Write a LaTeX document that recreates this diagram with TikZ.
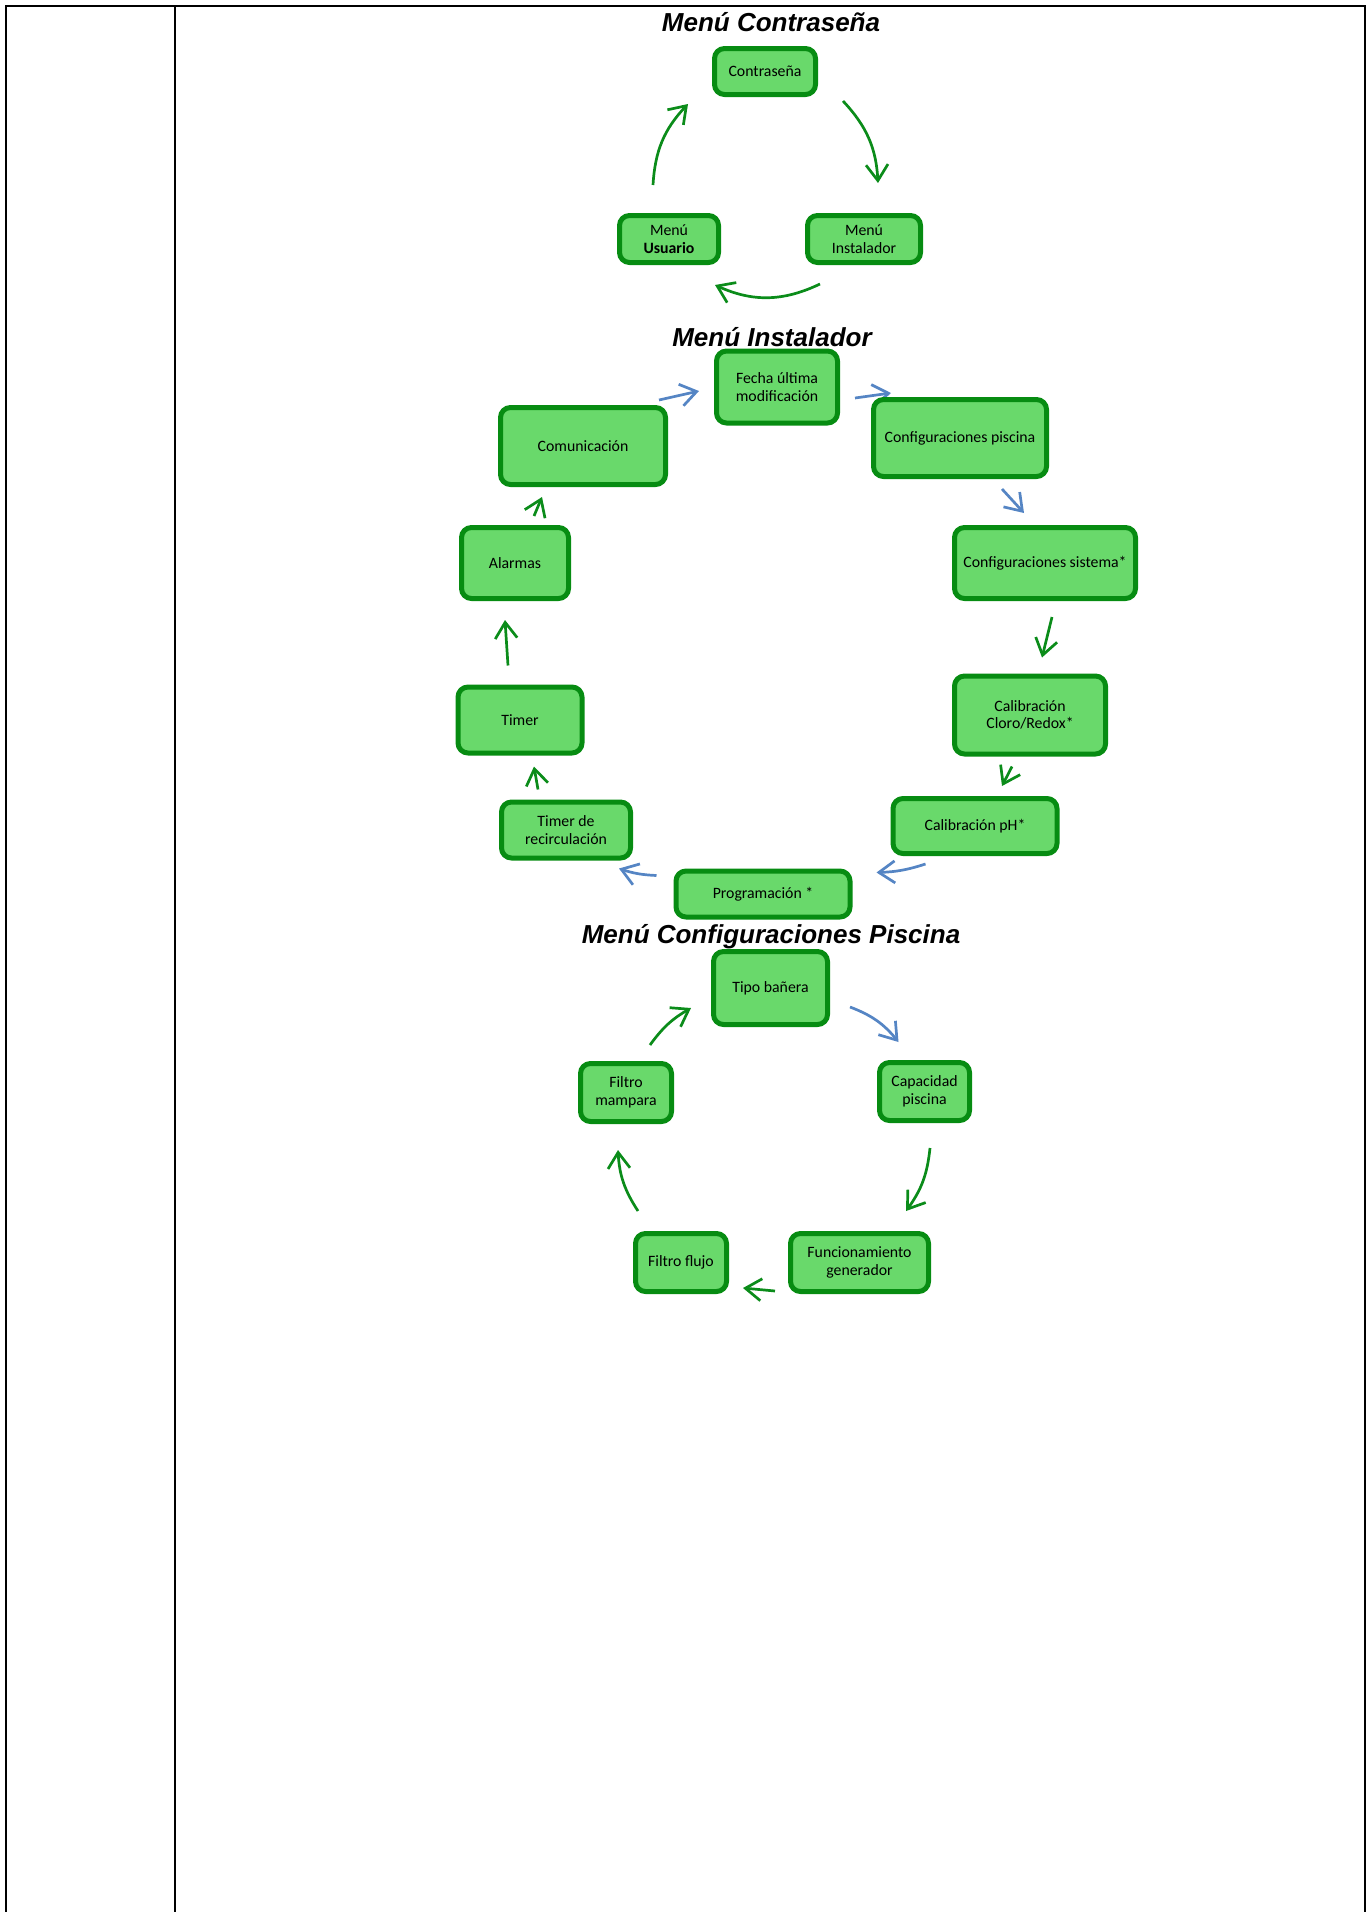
\documentclass[tikz,border=0pt]{standalone}
\usepackage{fontspec}
\setmainfont{Carlito}
\newfontfamily\titlefont{Liberation Sans}
\usetikzlibrary{arrows.meta,backgrounds}

\definecolor{boxfill}{HTML}{69D96B}
\definecolor{boxline}{HTML}{078C12}
\definecolor{arrgreen}{HTML}{0B8C1A}
\definecolor{arrblue}{HTML}{5585C4}

\tikzset{
  menubox/.style={draw=boxline, fill=boxfill, line width=5pt, rounded corners=10pt,
    align=center, inner sep=2pt, font=\fontsize{15.8}{17.5}\selectfont},
  menutitle/.style={anchor=base, font=\titlefont\bfseries\itshape\fontsize{26}{30}\selectfont},
  garrow/.style={draw=arrgreen, line width=2.7pt, -{Straight Barb[length=16pt,width=22pt]}},
  barrow/.style={garrow, draw=arrblue}
}

\begin{document}
\begin{tikzpicture}[x=1pt, y=-1pt, line join=round, line cap=round]
\useasboundingbox (0,0) rectangle (1367,1912);
% table frame
\draw[line width=2pt, line cap=rect, line join=miter] (6,1912) -- (6,6) -- (1365,6) -- (1365,1912);
\draw[line width=2pt] (175,6) -- (175,1912);

% menu contrasena
\node[menubox, minimum width=101, minimum height=46] (pass) at (765,71.5) {Contraseña};
\node[menubox, minimum width=99, minimum height=47] (usu) at (669,239) {Menú\\\textbf{Usuario}};
\node[menubox, minimum width=113, minimum height=47] (inst) at (864,239) {Menú\\Instalador};
\node[menutitle] (tpass) at (771,31) {Menú Contraseña};

% menu instalador
\node[menubox, minimum width=121, minimum height=72] (fecha) at (777,387) {Fecha última\\modificación};
\node[menubox, minimum width=165, minimum height=77] (comu) at (583,446) {Comunicación};
\node[menubox, minimum width=173, minimum height=77] (cpisc) at (960,438) {Configuraciones piscina};
\node[menubox, minimum width=107, minimum height=71] (alarm) at (515,563) {Alarmas};
\node[menubox, minimum width=181, minimum height=71] (csist) at (1045,563) {Configuraciones sistema*};
\node[menubox, minimum width=124, minimum height=66] (timer) at (520,720) {Timer};
\node[menubox, minimum width=151, minimum height=78] (cloro) at (1030,715) {Calibración\\Cloro/Redox*};
\node[menubox, minimum width=129, minimum height=56] (trec) at (566,830) {Timer de\\recirculación};
\node[menubox, minimum width=164, minimum height=55] (ph) at (975,826) {Calibración pH*};
\node[menubox, minimum width=174, minimum height=46] (prog) at (763,894) {Programación *};
\node[menutitle] (tinst) at (772,346) {Menú Instalador};

% menu configuraciones piscina
\node[menubox, minimum width=114, minimum height=73] (tipo) at (770.5,988) {Tipo bañera};
\node[menubox, minimum width=90, minimum height=58] (cap) at (924.5,1091.5) {Capacidad\\piscina};
\node[menubox, minimum width=91, minimum height=58] (fmamp) at (626,1092.5) {Filtro\\mampara};
\node[menubox, minimum width=138, minimum height=58] (func) at (859.5,1262.5) {Funcionamiento\\generador};
\node[menubox, minimum width=91, minimum height=58] (fflujo) at (681,1262.5) {Filtro flujo};
\node[menutitle] (tconf) at (771,943) {Menú Configuraciones Piscina};

\begin{pgfonlayer}{background}
\draw[garrow] ([shift={(25,4)}]pass.south east) to[bend left=20] ([shift={(14,-30)}]inst.north);
\draw[garrow] ([shift={(-44,19)}]inst.south) to[bend left=25] ([shift={(46,20)}]usu.south);
\draw[garrow] ([shift={(-16,-28)}]usu.north) to[bend left=20] ([shift={(-24,7)}]pass.south west);

\draw[barrow] ([shift={(-9,-5)}]comu.north east) -- ([shift={(-15,4)}]fecha.west);
\draw[barrow] ([shift={(15,11)}]fecha.east) -- ([shift={(20,-4)}]cpisc.north west);
\draw[barrow] ([shift={(42,10)}]cpisc.south) -- ([shift={(-21,-12)}]csist.north);
\draw[garrow] ([shift={(7,16)}]csist.south) -- ([shift={(12,-16)}]cloro.north);
\draw[garrow] ([shift={(-18,10)}]cloro.south) -- ([shift={(27,-10)}]ph.north);
\draw[barrow] ([shift={(35,8)}]ph.south west) to[bend left=8] ([shift={(24,4)}]prog.north east);
\draw[barrow] ([shift={(-17,7)}]prog.north west) to[bend left=8] ([shift={(-14,8)}]trec.south east);
\draw[garrow] ([shift={(-28,-10)}]trec.north) -- ([shift={(14,11)}]timer.south);
\draw[garrow] ([shift={(-12,-19)}]timer.north) -- ([shift={(-10,19)}]alarm.south);
\draw[garrow] ([shift={(19,-9)}]alarm.north) -- ([shift={(-41,10)}]comu.south);

\draw[barrow] ([shift={(20,19)}]tipo.east) to[bend left=15] ([shift={(-26,-18)}]cap.north);
\draw[garrow] ([shift={(5.5,25)}]cap.south) to[bend left=15] ([shift={(46.5,-20)}]func.north);
\draw[garrow] ([shift={(-13,28.5)}]func.west) -- ([shift={(14,25.5)}]fflujo.east);
\draw[garrow] ([shift={(-43,-20)}]fflujo.north) to[bend left=15] ([shift={(-8,26)}]fmamp.south);
\draw[garrow] ([shift={(24,-16)}]fmamp.north) to[bend left=12] ([shift={(-20,20)}]tipo.west);
\end{pgfonlayer}
\end{tikzpicture}
\end{document}
